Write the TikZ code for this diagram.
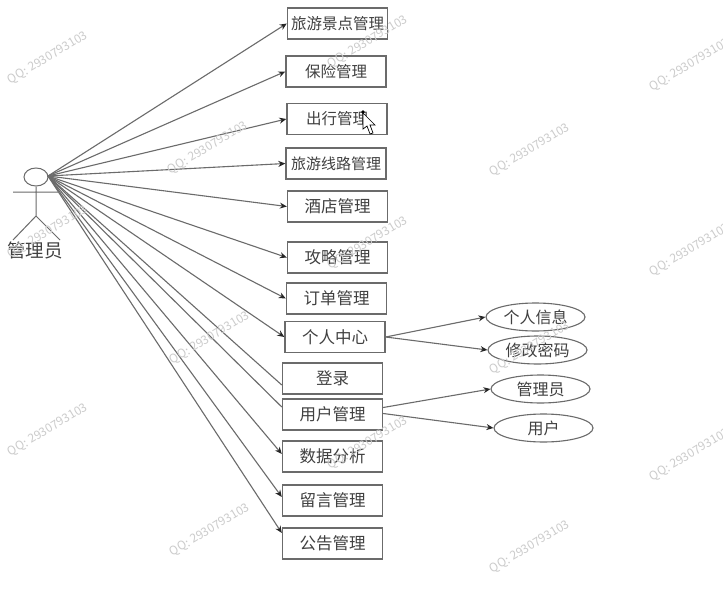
\documentclass[tikz,border=0pt]{standalone}
\usepackage{fontspec}
\setmainfont{Noto Sans CJK SC}
\usetikzlibrary{arrows.meta,shapes.geometric}
\definecolor{ln}{gray}{0.42}
\definecolor{tx}{gray}{0.25}
\definecolor{wm}{gray}{0.80}
\tikzset{
  x=1pt,y=-1pt,
  boxn/.style={draw=ln,line width=1.4pt,minimum width=100pt,minimum height=31pt,inner sep=0,font=\fontsize{16.5}{18}\selectfont,text=tx,fill=white},
  oval/.style={draw=ln,line width=1.1pt,ellipse,minimum width=99pt,minimum height=28pt,inner sep=0,font=\fontsize{16}{18}\selectfont,text=tx,fill=white},
  conn/.style={draw=ln,line width=1.1pt,-{Stealth[length=7pt,width=6pt,color=black!85]}},
  plainconn/.style={draw=ln,line width=1.1pt},
  actorline/.style={draw=ln,line width=1pt},
  wmark/.style={text=wm,rotate=31,font=\fontsize{12}{13}\selectfont,inner sep=0},
}
\begin{document}
\begin{tikzpicture}
\useasboundingbox (0,0) rectangle (723,591);
\fill[white] (0,0) rectangle (723,591);
% actor
\node[draw=ln,line width=1pt,ellipse,minimum width=24pt,minimum height=18pt,inner sep=0] (head) at (36,177) {};
\coordinate (hip) at (36,216);
\coordinate (larm) at (13,192);
\coordinate (rarm) at (58,192);
\coordinate (lleg) at (13,240);
\coordinate (rleg) at (60,240);
\coordinate (src) at (48,176);
\draw[actorline] (head.south) -- (hip) (larm) -- (rarm) (lleg) -- (hip) -- (rleg);
\node[font=\fontsize{18.5}{20}\selectfont,text=tx,inner sep=0] (actor) at (35,250) {管理员};
% boxes
\node[boxn] (b1) at (337.5,23.5) {\fontsize{15.5}{18}\selectfont 旅游景点管理};
\node[boxn] (b2) at (336,71.5) {\fontsize{15.5}{18}\selectfont 保险管理};
\node[boxn] (b3) at (337,119) {\fontsize{15.5}{18}\selectfont 出行管理};
\node[boxn] (b4) at (336,163.5) {\fontsize{15}{18}\selectfont 旅游线路管理};
\node[boxn] (b5) at (337.5,206.5) {酒店管理};
\node[boxn] (b6) at (337.5,257.5) {攻略管理};
\node[boxn] (b7) at (336.5,298.5) {订单管理};
\node[boxn] (b8) at (335,337) {个人中心};
\node[boxn] (b9) at (332.5,378.5) {登录};
\node[boxn] (b10) at (332.5,414.5) {用户管理};
\node[boxn] (b11) at (332.5,456.5) {数据分析};
\node[boxn] (b12) at (332.5,500.5) {留言管理};
\node[boxn] (b13) at (332.5,543.5) {公告管理};
% ellipses
\node[oval] (e1) at (535.5,317) {个人信息};
\node[oval] (e2) at (537.5,350) {修改密码};
\node[oval] (e3) at (540.5,389) {管理员};
\node[oval] (e4) at (543.5,428) {用户};
% connectors
\foreach \t in {b1,b2,b3,b4,b5,b6,b7,b8}
  \draw[conn] (src) -- (\t.west);
\draw[plainconn] (src) -- ([yshift=-6.5pt]b9.west);
\draw[plainconn] (src) -- ([yshift=7.5pt]b10.west);
\draw[conn] (src) -- ([yshift=2.5pt]b11.west);
\draw[conn] (src) -- ([yshift=3.5pt]b12.west);
\draw[conn] (src) -- ([yshift=10.5pt]b13.west);
\draw[conn] (b8.east) -- (e1.west);
\draw[conn] (b8.east) -- (e2.west);
\draw[conn] ([yshift=7pt]b10.east) -- (e3.west);
\draw[conn] ([yshift=1pt]b10.east) -- (e4.west);
% watermarks
\foreach \a/\b in {48/58,368/42,690/65,530/150,208/148,48/232,368/243,690/250,210/338,530/348,48/430,368/443,690/455,210/530,530/547}
  \node[wmark] at (\a,\b) {QQ: 2930793103};
% cursor
\path[draw=black,fill=white,line width=0.7pt] (363,113) -- (363,129) -- (367,126) -- (370,134) -- (373,133) -- (370,125) -- (375,125) -- cycle;
\fill[black] (363,112) circle (1.8pt);
\end{tikzpicture}
\end{document}
